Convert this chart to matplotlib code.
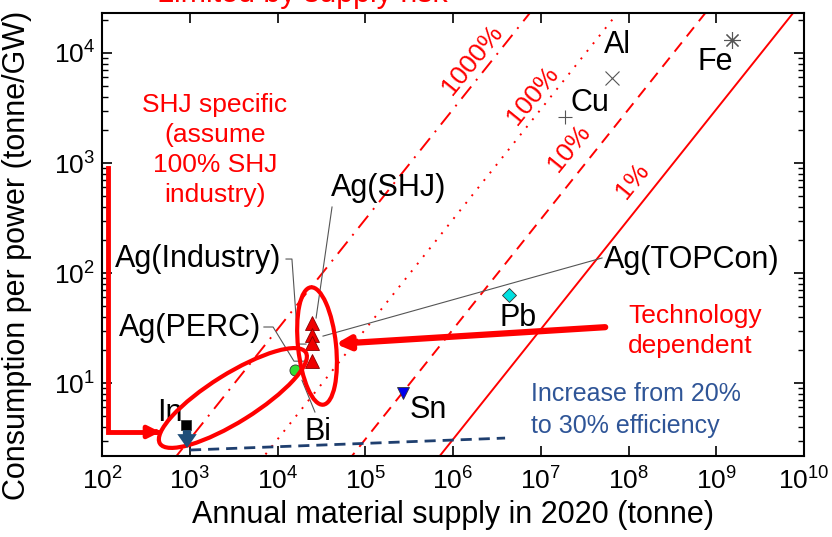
import numpy as np
import matplotlib
matplotlib.use('Agg')
import matplotlib.pyplot as plt
from matplotlib.patches import Ellipse
from matplotlib.transforms import ScaledTranslation

plt.rcParams['font.family'] = ['Liberation Sans', 'DejaVu Sans']
plt.rcParams['mathtext.default'] = 'regular'

# annual supply 2020 (tonne) and consumption per power (tonne/GW)
metals = ['Fe', 'Al', 'Cu', 'Pb', 'Sn', 'Bi', 'In']
supply = [1.5e9, 6.5e7, 1.9e7, 4.4e6, 2.7e5, 1.6e4, 9.1e2]
consumption = [1.31e4, 5.9e3, 2.6e3, 63, 8.1, 13.1, 4.15]
markers = [(8, 2, 0), 'x', '+', 'D', 'v', 'o', 's']
mcolors = ['#555555', '#555555', '#555555', '#00e0e0', '#0000ee', '#33dd33', 'black']
msizes = [12, 10, 10, 7, 8, 8, 7]

# silver, different cell technologies
ag_supply = [2.46e4, 2.46e4, 2.46e4, 2.46e4]
ag_consumption = [35.1, 27.3, 23.1, 15.9]

# share of annual supply lines
shares = [1, 10, 100, 1000]
share_styles = ['-', (0, (6, 4)), (0, (1, 4)), (0, (8, 4, 1, 4))]
power_gw = 3250

fig = plt.figure(figsize=(8.32, 5.37), dpi=100)
ax = fig.add_axes([0.1226, 0.1508, 0.8438, 0.8250])
ax.set_xscale('log')
ax.set_yscale('log')
ax.set_xlim(1e2, 1e10)
ax.set_ylim(2.17, 2.31e4)

xs = np.array([1e2, 1e10])
for s, ls in zip(shares, share_styles):
    ax.plot(xs, s / 100 * xs / power_gw, color='red', lw=1.4, ls=ls)

pct_pos = [(1.12e8, 686), (2.1e7, 1.37e3), (8.2e6, 4.15e3), (1.65e6, 8.64e3)]
for s, (px, py) in zip(shares, pct_pos):
    ax.text(px, py, '{}%'.format(s), color='red', fontsize=19, rotation=51,
            ha='center', va='center')

line_marks = ['x', '+', (8, 2, 0)]
for m, x, y, mk, c, ms in zip(metals, supply, consumption, markers, mcolors, msizes):
    thin = mk in line_marks
    ax.plot(x, y, marker=mk, color=c, ms=ms, mec=c if thin else '#333333',
            mew=0.8 if thin else 0.6, ls='none', zorder=5)
ax.plot(ag_supply, ag_consumption, marker='^', ls='none', color='#ee0000',
        mec='#880000', mew=0.6, ms=10, zorder=5)

# element labels
labels = {'Fe': (9.7e8, 8.3e3), 'Al': (7.4e7, 1.18e4), 'Cu': (3.64e7, 3.5e3),
          'Pb': (5.5e6, 39), 'Sn': (5.19e5, 5.7), 'Bi': (2.9e4, 3.59),
          'In': (596, 5.3), 'Ag(SHJ)': (1.87e5, 593), 'Ag(Industry)': (1242, 134),
          'Ag(PERC)': (1007, 31.6), 'Ag(TOPCon)': (5.3e8, 131)}
for t, (lx, ly) in labels.items():
    ax.text(lx, ly, t, fontsize=22, ha='center', va='center', color='black', zorder=6)

# leader lines
lead = [([1.25e4, 1.46e4, 1.71e4, 2.11e4], [134, 134, 22.6, 22.6]),
        ([7.0e3, 8.9e3, 1.54e4, 2.06e4], [32.3, 32.3, 15.8, 15.8]),
        ([4.18e4, 2.75e4], [398, 39]),
        ([4.99e7, 3.3e4], [137, 26.7]),
        ([1.9e4, 2.67e4], [10.6, 5.45])]
for lx, ly in lead:
    ax.plot(lx, ly, color='#555555', lw=0.8, zorder=4)

# ellipses drawn in inches around a data point
for (cx, cy), w, h, ang in [((2.82e4, 21.7), 0.38, 1.18, 6), ((3.1e3, 7.31), 1.72, 0.48, 32)]:
    tr = fig.dpi_scale_trans + ScaledTranslation(cx, cy, ax.transData)
    ax.add_patch(Ellipse((0, 0), w, h, angle=ang, transform=tr, fill=False,
                         ec='red', lw=3, zorder=6))

# red arrows
ax.plot([117, 117, 420], [902, 3.59, 3.59], color='red', lw=3.5, solid_joinstyle='miter', zorder=6)
ax.annotate('', xy=(496, 3.59), xytext=(380, 3.59),
            arrowprops=dict(arrowstyle='-|>,head_length=0.7,head_width=0.35', color='red', lw=3.5),
            zorder=6)
ax.annotate('', xy=(4.28e4, 22.6), xytext=(5.83e7, 32.3),
            arrowprops=dict(arrowstyle='-|>,head_length=0.8,head_width=0.4', color='red', lw=4.5),
            zorder=6)

# efficiency increase
navy = '#2f5597'
ax.plot([1007, 3.92e6], [2.46, 3.16], color='#1f3f6f', lw=2, ls=(0, (4, 2.5)), zorder=4)
ax.annotate('', xy=(931, 2.42), xytext=(931, 3.95),
            arrowprops=dict(arrowstyle='simple,head_length=1.0,head_width=1.4,tail_width=0.6',
                            color='#1f4e79', lw=0), zorder=6)

ax.text(1940, 1313, 'SHJ specific\n(assume\n100% SHJ\nindustry)', color='red', fontsize=19,
        ha='center', va='center', linespacing=1.33)
ax.text(9.87e7, 29.7, 'Technology\ndependent', color='red', fontsize=19, ha='left', va='center',
        linespacing=1.33)
ax.text(7.74e6, 5.69, 'Increase from 20%\nto 30% efficiency', color=navy, fontsize=18,
        ha='left', va='center', linespacing=1.4)

fig.text(0.363, 0.997, 'Limited by supply risk', color='red', fontsize=22, ha='center',
         va='baseline')

ax.set_xticks([10.0 ** k for k in range(2, 11)])
ax.set_yticks([10.0 ** k for k in range(1, 5)])
ax.tick_params(which='both', direction='in', top=True, right=True, labelsize=19)
ax.tick_params(which='major', length=7, width=1.2)
ax.tick_params(which='minor', length=4, width=1)
ax.tick_params(axis='x', pad=8)
ax.tick_params(axis='y', pad=5)
for sp in ax.spines.values():
    sp.set_linewidth(1.5)

ax.set_xlabel('Annual material supply in 2020 (tonne)', fontsize=22)
ax.set_ylabel('Consumption per power (tonne/GW)', fontsize=22)
ax.xaxis.set_label_coords(0.5, -0.099)
ax.yaxis.set_label_coords(-0.0997, 0.454)

fig.savefig('out.png', dpi=100)
